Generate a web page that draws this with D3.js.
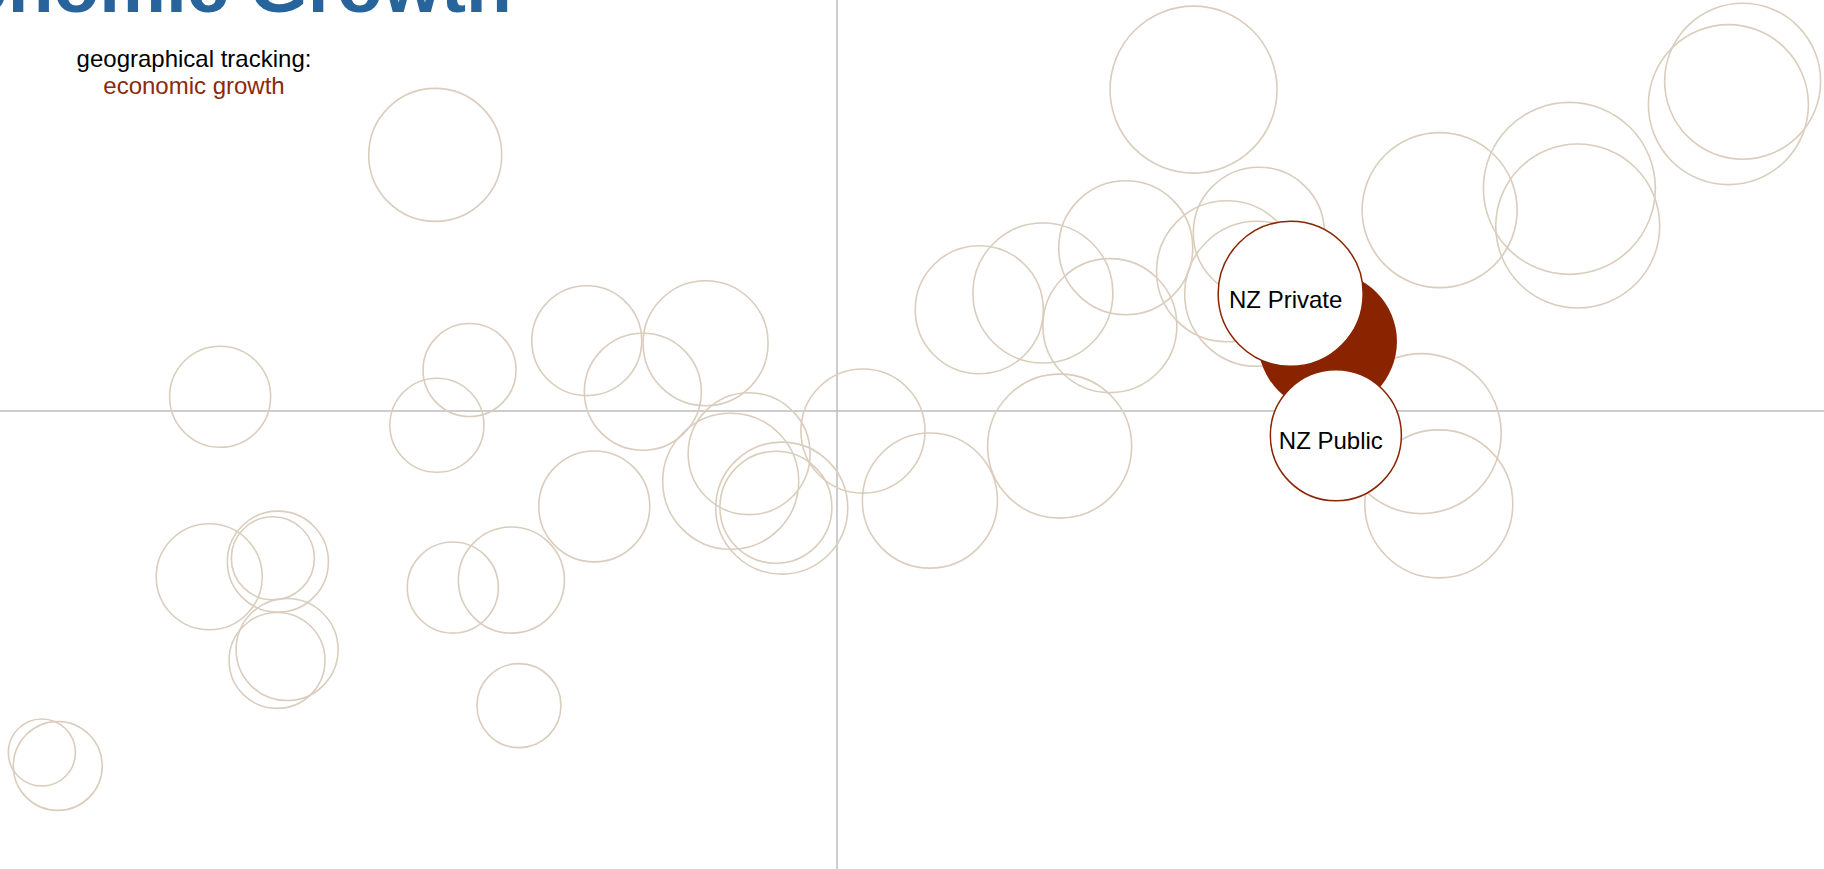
<!DOCTYPE html>
<html>
<head>
<meta charset="utf-8">
<script src="https://cdn.jsdelivr.net/npm/d3@7"></script>
<style>
  html, body { margin: 0; padding: 0; background: #fff; overflow: hidden; }
  svg { display: block; font-family: "Liberation Sans", Arial, Helvetica, sans-serif; }
</style>
</head>
<body>
<svg id="chart" width="1824" height="869"></svg>
<script>
// ---- data ----
const titleText = "Economic Growth";
const subtitleLines = ["geographical tracking:", "economic growth"];

// other regions (unlabelled comparison bubbles)
const otherX = [-4.80, 4.26, 10.65, 10.82, 7.20, 8.75, 8.85, 3.45, 5.04, 4.66, 5.02, 1.70, 2.46, 3.26, -1.57, -2.99, -2.32, -4.39, -4.78, -7.37, 0.31, -1.05, -1.27, -0.66, -0.73, -2.90, 1.11, 2.66, 6.98, 7.19, -7.50, -6.68, -6.74, -6.57, -6.69, -4.59, -3.89, -3.80, -9.50, -9.31];
const otherY = [3.06, 3.84, 3.66, 3.94, 2.40, 2.66, 2.21, 1.95, 2.13, 1.67, 1.40, 1.21, 1.41, 1.02, 0.81, 0.84, 0.23, 0.49, -0.17, 0.17, -0.24, -0.51, -0.84, -1.16, -1.15, -1.14, -1.07, -0.42, -0.27, -1.11, -1.98, -1.80, -1.76, -2.85, -2.98, -2.11, -2.02, -3.52, -4.08, -4.24];
const otherSize = [54.6, 86.1, 79.0, 75.1, 74.2, 91.3, 83.0, 55.4, 53.0, 61.4, 64.9, 50.6, 60.5, 55.4, 48.2, 37.3, 42.2, 26.7, 27.3, 31.5, 47.5, 45.9, 57.1, 53.8, 38.7, 38.0, 56.3, 64.0, 79.0, 67.6, 34.7, 31.5, 21.3, 32.1, 28.4, 25.6, 34.7, 21.8, 13.9, 24.4];

// New Zealand bubbles: total (filled), private, public
const nzLabels = ["", "NZ Private", "NZ Public"];
const nzX = [5.86, 5.42, 5.96];
const nzY = [0.83, 1.40, -0.29];
const nzSize = [59.6, 64.9, 53.0];

// ---- drawing ----
const W = 1824, H = 869;
const svg = d3.select("#chart");

const x = d3.scaleLinear().domain([-10, 10]).range([0, 1674]);
const y = d3.scaleLinear().domain([-5, 5]).range([829.5, -7.5]);
const r = d3.scaleSqrt().domain([0, 100]).range([0, 90]);

const TAN = "#dbcdbd", RED = "#8a2400", BLUE = "#27649b";

// crosshair axes
svg.append("line")
  .attr("x1", 0).attr("x2", W)
  .attr("y1", y(0)).attr("y2", y(0))
  .attr("stroke", "#bdbdbd").attr("stroke-width", 1.5);
svg.append("line")
  .attr("x1", x(0)).attr("x2", x(0))
  .attr("y1", 0).attr("y2", H)
  .attr("stroke", "#bdbdbd").attr("stroke-width", 1.5);

// other bubbles
const others = otherX.map((v, i) => ({ x: v, y: otherY[i], s: otherSize[i] }));
svg.append("g").selectAll("circle").data(others).join("circle")
  .attr("cx", d => x(d.x))
  .attr("cy", d => y(d.y))
  .attr("r", d => r(d.s))
  .attr("fill", "none")
  .attr("stroke", TAN)
  .attr("stroke-width", 1.6);

// NZ bubbles
const nz = nzX.map((v, i) => ({ x: v, y: nzY[i], s: nzSize[i], label: nzLabels[i], i }));
const g = svg.append("g");
g.selectAll("circle").data(nz).join("circle")
  .attr("cx", d => x(d.x))
  .attr("cy", d => y(d.y))
  .attr("r", d => r(d.s))
  .attr("fill", d => d.i === 0 ? RED : "#ffffff")
  .attr("stroke", RED)
  .attr("stroke-width", d => d.i === 0 ? 0 : 1.5);
g.selectAll("text").data(nz.filter(d => d.label)).join("text")
  .attr("x", d => x(d.x) - 5)
  .attr("y", d => y(d.y) + 14)
  .attr("text-anchor", "middle")
  .attr("font-size", 24)
  .attr("fill", "#000")
  .text(d => d.label);

// title & subtitle
svg.append("text")
  .attr("x", 191).attr("y", 12)
  .attr("text-anchor", "middle")
  .attr("font-size", 75)
  .attr("font-weight", "bold")
  .attr("fill", BLUE)
  .text(titleText);

svg.append("g").selectAll("text").data(subtitleLines).join("text")
  .attr("x", 194)
  .attr("y", (d, i) => 67 + i * 27)
  .attr("text-anchor", "middle")
  .attr("font-size", 24)
  .attr("fill", (d, i) => i === 0 ? "#000" : "#8b2a0c")
  .text(d => d);
</script>
</body>
</html>
